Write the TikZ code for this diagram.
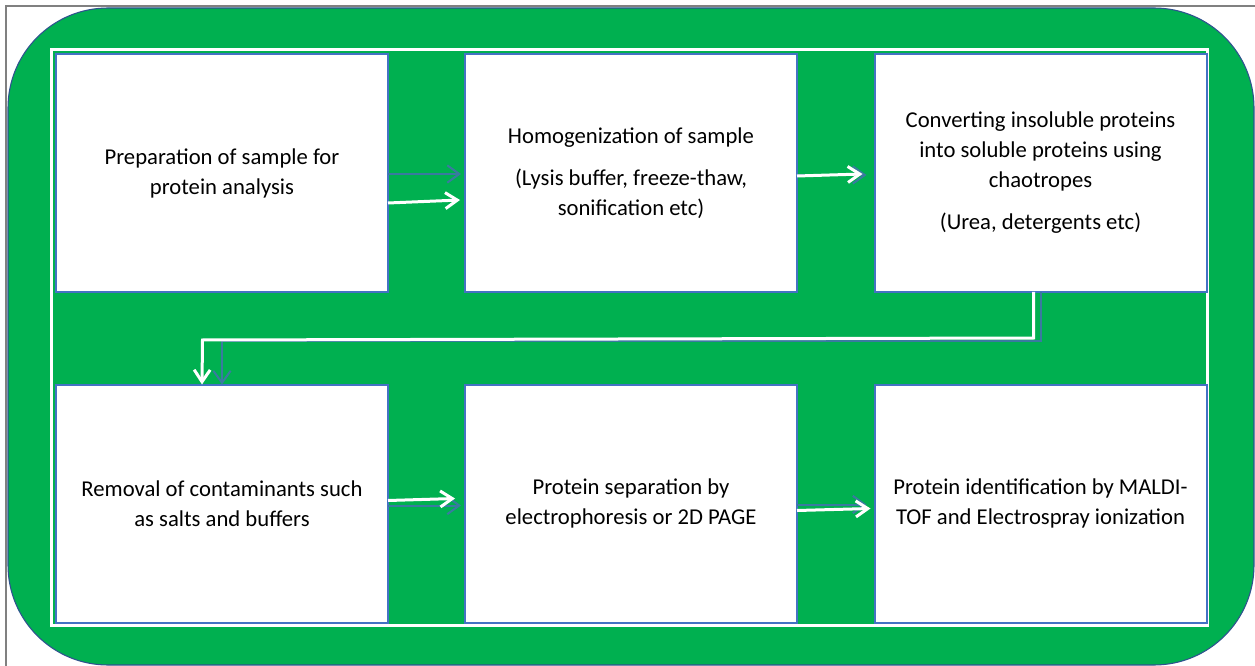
\documentclass[tikz,border=0pt]{standalone}
\usepackage{fontspec}
\setmainfont{Carlito}
\usetikzlibrary{arrows.meta,calc}
\definecolor{bggreen}{HTML}{00B050}
\definecolor{boxblue}{HTML}{4472C4}
\definecolor{rimblue}{HTML}{2F528F}
\definecolor{ghost}{RGB}{58,122,160}
\definecolor{greyline}{RGB}{128,128,128}
\tikzset{
  stepbox/.style={draw=boxblue, line width=1.5pt, fill=white, inner sep=0pt, outer sep=0pt,
    minimum width=249pt, minimum height=178.5pt, align=center,
    font=\fontsize{17pt}{22.5pt}\selectfont},
  warrow/.style={draw=white, line width=2.25pt, -{Straight Barb[length=9pt,width=12pt,line width=2.25pt]}},
  garrow/.style={draw=ghost, line width=1.5pt, -{Straight Barb[length=9pt,width=13pt,line width=1.5pt]}},
}
\begin{document}
\begin{tikzpicture}[x=0.75pt,y=-0.75pt]
\useasboundingbox (0,0) rectangle (1255,666);
\fill[white] (0,0) rectangle (1255,666);
\draw[greyline, line width=1.2pt] (6,666) -- (6,6) -- (1255,6);
\begin{scope}
\clip (0,0) rectangle (1255,666);
\draw[fill=bggreen, draw=rimblue, line width=0.8pt, rounded corners=75pt] (8,8) rectangle (1254,665);
\end{scope}
\draw[white, line width=2.25pt] (51,50) rectangle (1207,625);

\node[stepbox] (b1) at (222,173) {Preparation of sample for\\protein analysis};
\node[stepbox] (b2) at (631,173) {Homogenization of sample\\[9pt](Lysis buffer, freeze-thaw,\\sonification etc)};
\node[stepbox] (b3) at (1040.5,173) {Converting insoluble proteins\\into soluble proteins using\\chaotropes\\[9pt](Urea, detergents etc)};
\node[stepbox] (b4) at (222,503.5) {Removal of contaminants such\\as salts and buffers};
\node[stepbox] (b5) at (631,503.5) {Protein separation by\\electrophoresis or 2D PAGE};
\node[stepbox] (b6) at (1040.5,503.5) {Protein identification by MALDI-\\TOF and Electrospray ionization};

% ghost (blue) connectors
\draw[garrow] ($(b1.east)+(0,1)$) -- ($(b2.west)+(-4,1)$);
\draw[garrow] ($(b2.east)+(0,2)$) -- ($(b3.west)+(-8,2)$);
\draw[garrow] (b3.south) -- ++(0,49) -| (b4.north);
\draw[garrow] ($(b4.east)+(0,2)$) -- ($(b5.west)+(-4,2)$);
\draw[garrow] ($(b5.east)+(0,1)$) -- ($(b6.west)+(-8,1)$);

% white connectors
\draw[warrow] ($(b1.east)+(0,30)$) -- ($(b2.west)+(-5,27)$);
\draw[warrow] ($(b2.east)+(0,3)$) -- ($(b3.west)+(-12,1)$);
\draw[warrow] ($(b3.south)+(-7,0)$) -- ++(0,46) -- ++(-831,2) -- ($(b4.north)+(-20,0)$);
\draw[warrow] ($(b4.east)+(0,-3)$) -- ($(b5.west)+(-10,-5)$);
\draw[warrow] ($(b5.east)+(0,7)$) -- ($(b6.west)+(-4,5)$);
\end{tikzpicture}
\end{document}
